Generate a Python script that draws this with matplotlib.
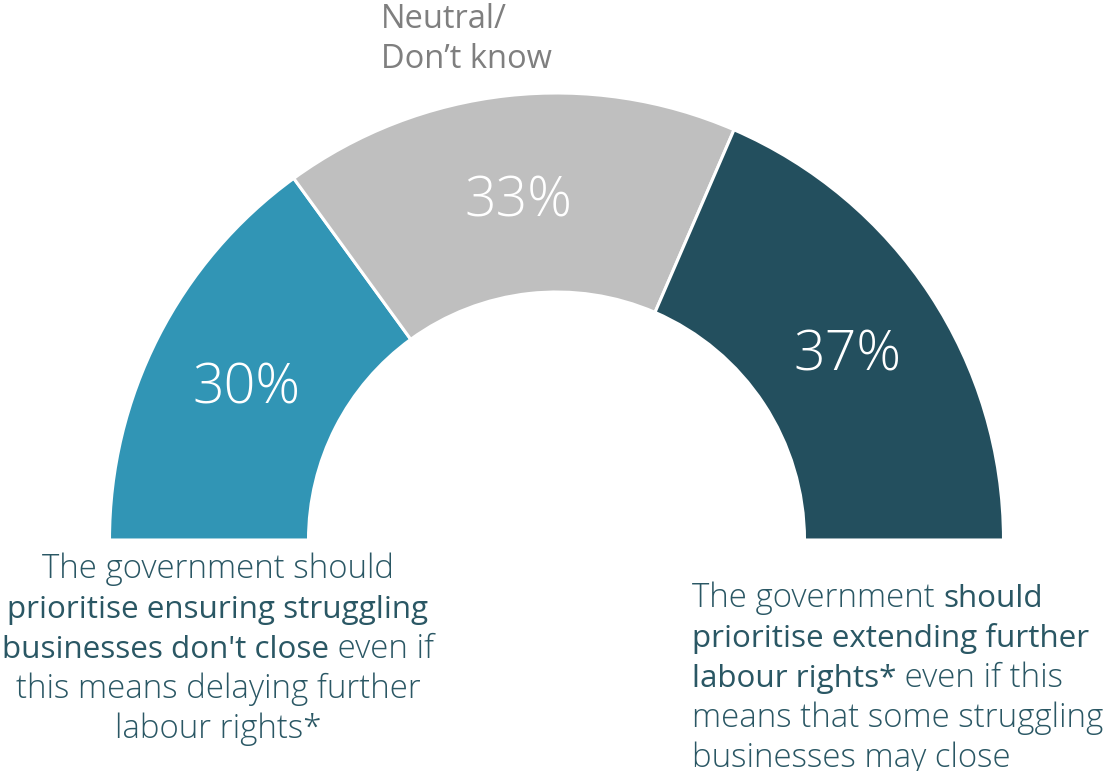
import math
import matplotlib
matplotlib.use("Agg")
import matplotlib.pyplot as plt
from matplotlib import font_manager as fm

# ---- data -------------------------------------------------------------
labels = ["Prioritise businesses", "Neutral/Don't know", "Prioritise labour rights"]
shares = [30, 33, 37]
colors = ["#3195B5", "#BFBFBF", "#234F5E"]

neutral_label = ["Neutral/", "Don\u2019t know"]

# each line is a list of (text, emphasised?)
left_text = [
    [("The government should", False)],
    [("prioritise ensuring struggling", True)],
    [("businesses don't close", True), (" even if", False)],
    [("this means delaying further", False)],
    [("labour rights*", False)],
]
right_text = [
    [("The government ", False), ("should", True)],
    [("prioritise extending further", True)],
    [("labour rights*", True), (" even if this", False)],
    [("means that some struggling", False)],
    [("businesses may close", False)],
]

TEXT_COLOR = "#2A5764"
GREY_TEXT = "#7F7F7F"


# ---- fonts ------------------------------------------------------------
def _plain(path):
    p = path.lower()
    return not any(k in p for k in ("italic", "condensed", "cond", "narrow", "semi", "extra"))


def pick_font(families, want_light):
    for fam in families:
        cands = [f for f in fm.fontManager.ttflist
                 if f.name.lower().startswith(fam.lower()) and f.style == "normal"
                 and "condensed" not in f.name.lower() and f.stretch == "normal"
                 and _plain(f.fname)]
        if not cands:
            continue
        if want_light:
            light = [f for f in cands
                     if "light" in f.fname.lower() or f.weight in (300, "light")]
            if light:
                return fm.FontProperties(fname=light[0].fname)
        else:
            reg = [f for f in cands
                   if f.weight in (400, "normal", "regular")
                   and "light" not in f.fname.lower()]
            if reg:
                return fm.FontProperties(fname=reg[0].fname)
    return fm.FontProperties(family="DejaVu Sans")


FAMS = ["Open Sans", "Lato", "Roboto", "Noto Sans"]
LIGHT = pick_font(FAMS, True)
REGULAR = pick_font(FAMS, False)

# ---- figure -----------------------------------------------------------
W, H = 1106, 771
fig = plt.figure(figsize=(W / 100, H / 100), dpi=100)
ax = fig.add_axes([0, 0, 1, 1])

cx, cy = 556.5, 231.0
r_out, r_in = 447.0, 248.0

vals = shares + [sum(shares)]          # hidden lower half
cols = colors + ["none"]
wedges, _ = ax.pie(
    vals, colors=cols, startangle=180, counterclock=False,
    center=(cx, cy), radius=r_out,
    wedgeprops=dict(width=r_out - r_in, edgecolor="white", linewidth=2.2),
)
wedges[-1].set_edgecolor("none")

ax.set_xlim(0, W)
ax.set_ylim(0, H)
ax.set_aspect("equal", adjustable="box")
ax.axis("off")

# percentage labels at the middle of each ring segment
r_mid = (r_out + r_in) / 2
for w, v in zip(wedges[:-1], shares):
    ang = math.radians((w.theta1 + w.theta2) / 2)
    x = cx + r_mid * math.cos(ang)
    y = cy + r_mid * math.sin(ang) - 7
    ax.text(x, y, f"{v}%", ha="center", va="center", color="white",
            fontproperties=LIGHT, fontsize=40)

# neutral label above the grey segment
for i, s in enumerate(neutral_label):
    ax.text(381, H - 28 - i * 40, s, ha="left", va="baseline", color=GREY_TEXT,
            fontproperties=REGULAR, fontsize=23.5)

fig.canvas.draw()
renderer = fig.canvas.get_renderer()

LIGHT_SIZE, STRONG_SIZE = 23.8, 22.6


def rich_line(x, y, parts, ha):
    arts = []
    widths = []
    for s, strong in parts:
        fp = REGULAR if strong else LIGHT
        t = ax.text(0, y, s, ha="left", va="baseline", color=TEXT_COLOR,
                    fontproperties=fp,
                    fontsize=STRONG_SIZE if strong else LIGHT_SIZE)
        widths.append(t.get_window_extent(renderer).width)
        arts.append(t)
    total = sum(widths)
    x0 = x - total / 2 if ha == "center" else x
    for t, wdt in zip(arts, widths):
        t.set_x(x0)
        x0 += wdt


for i, line in enumerate(left_text):
    rich_line(218, H - (578 + 40 * i), line, "center")
for i, line in enumerate(right_text):
    rich_line(692, H - (607 + 40 * i), line, "left")

fig.savefig("out.png", dpi=100)
